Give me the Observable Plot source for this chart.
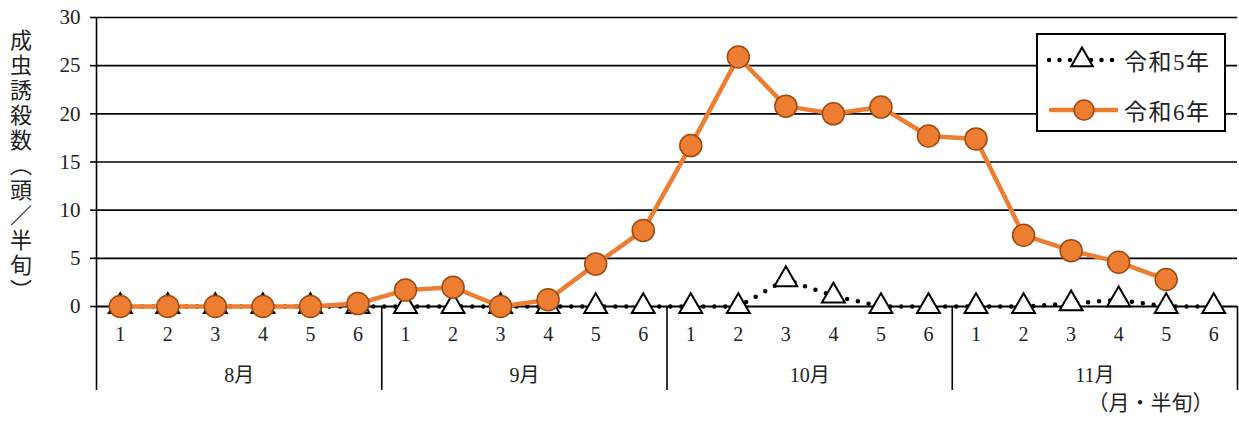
<!DOCTYPE html>
<html><head><meta charset="utf-8">
<script src="https://cdn.jsdelivr.net/npm/d3@7"></script>
<script src="https://cdn.jsdelivr.net/npm/@observablehq/plot@0.6"></script>
<style>
body{margin:0;background:#fff;}
#wrap{position:relative;width:1239px;height:421px;font-family:"Liberation Serif","Noto Sans CJK JP",serif;}
#legend{position:absolute;left:1036px;top:33px;width:186px;height:95px;border:2px solid #000;background:#fff;}
#legend .row{position:absolute;left:0;height:30px;display:flex;align-items:center;}
#legend span{font-size:23px;letter-spacing:1.5px;color:#222;margin-left:6px;white-space:nowrap;}
#ytitle{position:absolute;left:10px;top:29px;writing-mode:vertical-rl;font-family:"Noto Sans CJK JP",sans-serif;font-size:22px;letter-spacing:3px;color:#222;line-height:1;}
</style></head>
<body><div id="wrap"></div>
<script>
const months = ["8月","9月","10月","11月"];
const halfLabels = ["1","2","3","4","5","6"];
const seriesNames = ["令和5年","令和6年"];
const r5 = [0,0,0,0,0,0, 0,0,0,0,0,0, 0,0,2.8,1.1,0,0, 0,0,0.3,0.7,0,0];
const r6 = [0,0,0,0,0,0.3, 1.7,2.0,0,0.7,4.4,7.9, 16.7,25.9,20.8,20.0,20.7,17.7, 17.4,7.4,5.8,4.6,2.8,null];
const yTicks = [0,5,10,15,20,25,30];
const yTitle = "成虫誘殺数（頭／半旬）";
const xTitle = "（月・半旬）";

const orange = "#ED7D31", orangeDark = "#9C4A12";
const slots = r5.map((v,i)=>({i, pos:i+0.5, r5:v, r6:r6[i]}));
const halfTicks = slots.map(d=>d.pos);
const monthTicks = months.map((m,k)=>k*6+3);
const sepTicks = [0,6,12,18,24];
const fontFam = '"Liberation Serif","Noto Sans CJK JP",serif';

const chart = Plot.plot({
  width:1239, height:421,
  marginLeft:96, marginRight:2, marginTop:17, marginBottom:115,
  style:{fontFamily:fontFam, fontSize:"19px", color:"#222", overflow:"visible"},
  x:{domain:[0,24], axis:null},
  y:{domain:[0,30], axis:null},
  marks:[
    Plot.ruleY(yTicks.filter(t=>t>0), {stroke:"#000", strokeWidth:1.6}),
    Plot.axisY({ticks:yTicks, tickSize:6, tickPadding:10, fontSize:21, label:null, stroke:"#000", strokeWidth:1.6}),
    Plot.ruleX([0], {stroke:"#000", strokeWidth:1.6}),
    Plot.axisX({ticks:sepTicks, tickSize:84, label:null, tickFormat:()=>"", stroke:"#000", strokeWidth:1.6}),
    Plot.axisX({ticks:halfTicks, tickSize:0, tickPadding:20, fontSize:20, label:null, tickFormat:(d)=>halfLabels[Math.floor(d)%6]}),
    Plot.axisX({ticks:monthTicks, tickSize:0, tickPadding:61, fontSize:20, label:null, tickFormat:(d)=>months[Math.floor(d/6)]}),
    Plot.ruleY([0], {stroke:"#000", strokeWidth:1.8}),
    Plot.line(slots, {x:"pos", y:"r5", stroke:"#000", strokeWidth:4.5, strokeDasharray:"0 11", strokeLinecap:"round"}),
    Plot.dot(slots, {x:"pos", y:"r5", symbol:"triangle", r:8.5, fill:"#fff", stroke:"#000", strokeWidth:2}),
    Plot.line(slots.filter(d=>d.r6!=null), {x:"pos", y:"r6", stroke:orange, strokeWidth:4.5}),
    Plot.dot(slots.filter(d=>d.r6!=null), {x:"pos", y:"r6", r:11, fill:orange, stroke:orangeDark, strokeWidth:1.5}),
    Plot.text([xTitle], {frameAnchor:"bottom-right", dx:-24, dy:103, text:d=>d, fontSize:21, fill:"#222", textAnchor:"end"})
  ]
});
const wrap = document.getElementById("wrap");
wrap.appendChild(chart);

const yt = document.createElement("div");
yt.id = "ytitle";
yt.textContent = yTitle;
wrap.appendChild(yt);

// legend
const lg = document.createElement("div");
lg.id = "legend";
const sw = (k)=>{
  if(k===0){
    return `<svg width="80" height="30"><line x1="11" y1="15" x2="76" y2="15" stroke="#000" stroke-width="4.5" stroke-dasharray="0 10.5" stroke-linecap="round"/><path d="${d3.symbol(d3.symbolTriangle, Math.PI*8*8)()}" transform="translate(44,15)" fill="#fff" stroke="#000" stroke-width="2"/></svg>`;
  }
  return `<svg width="80" height="30"><line x1="13" y1="15" x2="80" y2="15" stroke="${orange}" stroke-width="4.5" stroke-linecap="round"/><circle cx="46" cy="15" r="10" fill="${orange}" stroke="${orangeDark}" stroke-width="1.5"/></svg>`;
};
lg.innerHTML = seriesNames.map((n,k)=>`<div class="row" style="top:${10+k*50}px">${sw(k)}<span>${n}</span></div>`).join("");
wrap.appendChild(lg);
</script></body></html>
